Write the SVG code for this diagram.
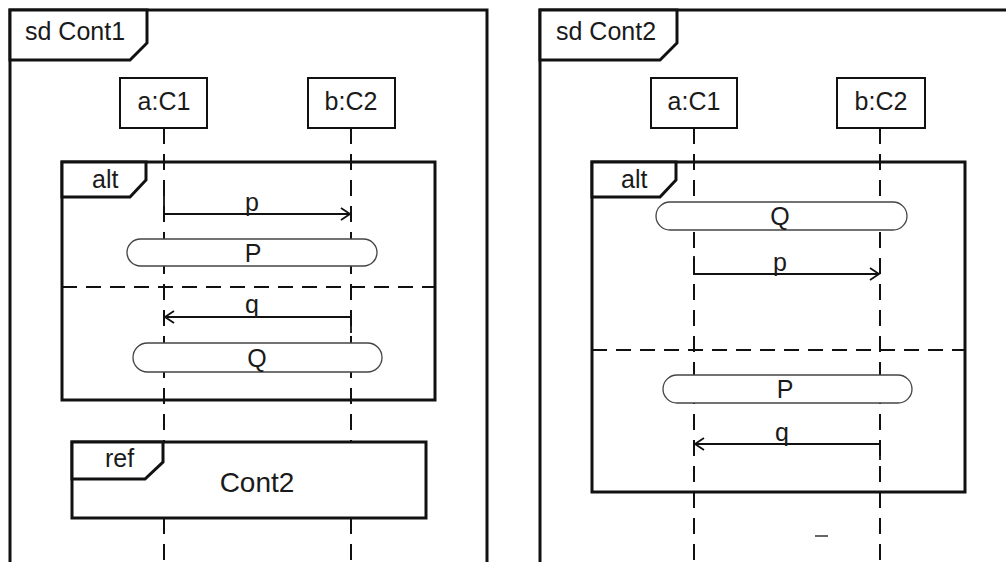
<svg xmlns="http://www.w3.org/2000/svg" width="1006" height="562" viewBox="0 0 1006 562">
<defs>
<marker id="open" markerWidth="12" markerHeight="14" refX="10" refY="7" orient="auto" markerUnits="userSpaceOnUse">
<path d="M1,1 L10,7 L1,13" fill="none" stroke="#111" stroke-width="1.8"/>
</marker>
<style>
.frame{fill:none;stroke:#111;stroke-width:3}
.tab{fill:#fff;stroke:#111;stroke-width:3;stroke-linejoin:miter}
.box{fill:#fff;stroke:#111;stroke-width:2}
.life{stroke:#111;stroke-width:2;stroke-dasharray:16 10;fill:none}
.sep{stroke:#111;stroke-width:2.2;stroke-dasharray:15 9;fill:none}
.pill{fill:#fff;stroke:#444;stroke-width:1.3}
.msg{fill:none;stroke:#111;stroke-width:1.8;marker-end:url(#open)}
text{font-family:"Liberation Sans",Arial,sans-serif;font-size:25px;fill:#1a1a1a}
.mid{text-anchor:middle}
</style>
</defs>
<rect width="1006" height="562" fill="#fff"/>

<g id="frame-cont1">
<path class="frame" d="M10,570 V10 H487 V570"/>
<path class="tab" d="M10,10 H147 V43 L130,60 H10 Z"/>
<text x="25" y="40">sd Cont1</text>
</g>

<g id="frame-cont2">
<path class="frame" d="M540,570 V10 H1010"/>
<path class="tab" d="M540,10 H677 V43 L660,60 H540 Z"/>
<text x="556" y="40">sd Cont2</text>
</g>

<g id="lifelines">
<path class="life" d="M164,128 V442 M164,518 V562"/>
<path class="life" d="M351,128 V442 M351,518 V562"/>
<path class="life" d="M694,128 V562"/>
<path class="life" d="M880,128 V562"/>
</g>

<g id="c1-a">
<rect class="box" x="120" y="78" width="87" height="50"/>
<text class="mid" x="164" y="110">a:C1</text>
</g>
<g id="c1-b">
<rect class="box" x="308" y="78" width="87" height="50"/>
<text class="mid" x="351" y="110">b:C2</text>
</g>
<g id="c2-a">
<rect class="box" x="651" y="78" width="86" height="50"/>
<text class="mid" x="694" y="110">a:C1</text>
</g>
<g id="c2-b">
<rect class="box" x="837" y="78" width="88" height="50"/>
<text class="mid" x="881" y="110">b:C2</text>
</g>

<g id="alt1">
<rect class="frame" x="62" y="162" width="373" height="238"/>
<path class="tab" d="M62,162 H146 V180 L130,197 H62 Z"/>
<text x="92" y="188">alt</text>
<path class="sep" d="M62,287 H435"/>
</g>

<g id="alt2">
<rect class="frame" x="592" y="162" width="373" height="330"/>
<path class="tab" d="M592,162 H676 V180 L660,197 H592 Z"/>
<text x="621" y="188">alt</text>
<path class="sep" d="M592,350 H965"/>
</g>

<g id="state-P1">
<rect class="pill" x="127" y="239" width="250" height="27" rx="13.5"/>
<text class="mid" x="253" y="262">P</text>
</g>
<g id="state-Q1">
<rect class="pill" x="133" y="343" width="249" height="29" rx="14.5"/>
<text class="mid" x="257" y="367">Q</text>
</g>
<g id="state-Q2">
<rect class="pill" x="656" y="202" width="251" height="28" rx="14"/>
<text class="mid" x="780" y="225">Q</text>
</g>
<g id="state-P2">
<rect class="pill" x="663" y="375" width="249" height="28" rx="14"/>
<text class="mid" x="785" y="398">P</text>
</g>

<g id="ref1">
<rect x="72" y="442" width="354" height="76" fill="#fff" stroke="#111" stroke-width="3"/>
<path class="tab" d="M72,442 H163 V462 L145,479 H72 Z"/>
<text x="105" y="467">ref</text>
<text class="mid" x="257" y="492" style="font-size:28px">Cont2</text>
</g>

<g id="connectors">
<path class="msg" d="M164,195 V214 H350"/>
<path class="msg" d="M351,333 V317 H165"/>
<path class="msg" d="M694,256 V274 H879"/>
<path class="msg" d="M880,460 V444 H695"/>
</g>

<g id="labels">
<text class="mid" x="252" y="211">p</text>
<text class="mid" x="252" y="313">q</text>
<text class="mid" x="780" y="271">p</text>
<text class="mid" x="782" y="441">q</text>
</g>

<path d="M815,536 H828" stroke="#333" stroke-width="1.5"/>
</svg>
